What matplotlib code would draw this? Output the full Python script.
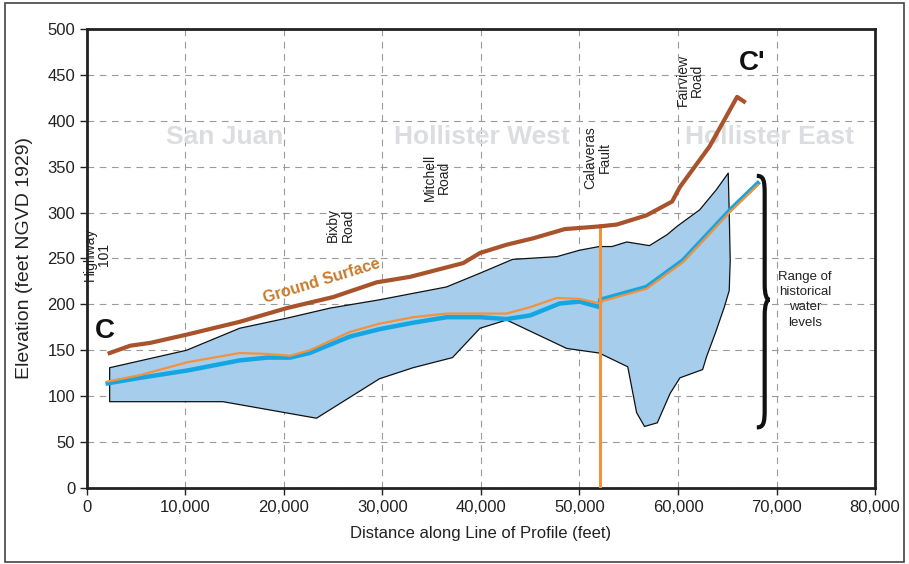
import matplotlib.pyplot as plt
import matplotlib.patches as patches
from matplotlib.path import Path
from matplotlib.ticker import FuncFormatter

plt.rcParams['font.family'] = ['Liberation Sans', 'DejaVu Sans']

# ground surface profile
ground_x = [2300, 4400, 6400, 10100, 15500, 20300, 25000, 29400, 32800, 38200, 39900,
            42600, 45300, 48500, 52100, 53800, 56800, 59400, 60200, 63200, 66000, 66700]
ground_y = [147, 155, 158, 167, 181, 196, 208, 224, 230, 245, 256,
            265, 272, 282, 285, 287, 297, 312, 328, 372, 426, 421]

# range of historical water levels (upper / lower envelope)
upper_x = [2300, 10100, 15500, 20300, 24700, 29700, 36500, 39900, 43200, 47700, 50000,
           52000, 53300, 54800, 57100, 58900, 59900, 62200, 63900, 65100,
           65200, 65300, 65200]
upper_y = [131, 150, 174, 185, 196, 205, 219, 234, 249, 252, 259,
           263, 263, 268, 264, 276, 285, 303, 325, 343,
           300, 248, 215]
lower_x = [2300, 13800, 23300, 29700, 33100, 37100, 39900, 42600, 48700, 52000, 54900,
           55800, 56600, 57900, 59200, 60200, 62500, 62900, 63800, 64700]
lower_y = [94, 94, 76, 119, 131, 142, 174, 183, 152, 147, 132,
           82, 67, 71, 103, 120, 129, 143, 169, 197]

# water level lines
blue_x = [2100, 5400, 10200, 15500, 18300, 20600, 22600, 26700, 29700, 33100, 36500, 40000,
          42600, 45000, 48000, 50000, 52050, 52100, 56800, 60500, 65300, 68100]
blue_y = [114, 120, 128, 139, 142, 142, 147, 165, 173, 180, 186, 186,
          184, 188, 201, 203, 197, 205, 219, 248, 303, 332]
orange_x = [2100, 5400, 10200, 15500, 18300, 20600, 22600, 26700, 29700, 33100, 36500, 42600,
            45000, 47700, 50000, 52050, 52100, 56800, 60500, 65300, 68100]
orange_y = [116, 123, 137, 147, 146, 144, 150, 170, 179, 186, 190, 190,
            197, 207, 206, 201, 203, 217, 246, 301, 330]

fault_x = 52070

road_names = ['Highway\n101', 'Bixby\nRoad', 'Mitchell\nRoad', 'Calaveras\nFault', 'Fairview\nRoad']
road_x = [1000, 25700, 35500, 51800, 61200]
road_y = [254, 286, 338, 360, 444]

region_names = ['San Juan', 'Hollister West', 'Hollister East']
region_x = [14000, 40100, 69300]

fig = plt.figure(figsize=(9.09, 5.64), dpi=100)
ax = fig.add_axes([0.0957, 0.1348, 0.8669, 0.8138])

# outer frame
fig.patches.append(patches.Rectangle((0.005, 0.004), 0.99, 0.99, transform=fig.transFigure,
                                     fill=False, ec='#444444', lw=1.2))

ax.set_xlim(0, 80000)
ax.set_ylim(0, 500)
ax.set_xticks(range(0, 80001, 10000))
ax.set_yticks(range(0, 501, 50))
ax.xaxis.set_major_formatter(FuncFormatter(lambda v, p: f'{int(v):,}'))
ax.grid(True, ls=(0, (6, 5)), color='#9a9a9a', lw=0.8)
ax.set_axisbelow(True)
for s in ax.spines.values():
    s.set_linewidth(2.0)
    s.set_color('#222222')
ax.tick_params(direction='out', length=5, width=1, labelsize=12, colors='#222222')

# historical range envelope
poly_x = upper_x + lower_x[::-1]
poly_y = upper_y + lower_y[::-1]
ax.fill(poly_x, poly_y, facecolor='#a6cdec', edgecolor='#111111', lw=0.9, zorder=2,
        joinstyle='round')

ax.plot(blue_x, blue_y, color='#13a6e3', lw=3.2, zorder=3, solid_joinstyle='round')
ax.plot(orange_x, orange_y, color='#f3923b', lw=1.6, zorder=4, solid_joinstyle='round')
ax.plot([fault_x, fault_x], [0, 286], color='#f3923b', lw=2.2, zorder=4)
ax.plot(ground_x, ground_y, color='#a8532c', lw=3, zorder=4, solid_joinstyle='round')

for name, x in zip(region_names, region_x):
    ax.text(x, 382, name, fontsize=19, fontweight='bold', color='#dcdde0',
            ha='center', va='center', zorder=1)

for name, x, y in zip(road_names, road_x, road_y):
    ax.text(x, y, name, fontsize=10, rotation=90, ha='center', va='center',
            color='#222222', linespacing=1.05, zorder=5)

ax.text(23800, 226, 'Ground Surface', fontsize=11.5, fontweight='bold', color='#c97a2c',
        rotation=17, ha='center', va='center', rotation_mode='anchor', zorder=5)
ax.text(1800, 171, 'C', fontsize=20, fontweight='bold', color='#111111', ha='center', va='center')
ax.text(67500, 463, "C'", fontsize=20, fontweight='bold', color='#111111', ha='center', va='center')

# brace for range of historical water levels
verts = [(68000, 340), (68700, 340), (68800, 335), (68800, 320),
         (68800, 222), (68800, 210), (69000, 205), (69300, 205),
         (69000, 205), (68800, 200), (68800, 188),
         (68800, 86), (68800, 71), (68700, 66), (68000, 66)]
codes = [Path.MOVETO, Path.CURVE4, Path.CURVE4, Path.CURVE4,
         Path.LINETO, Path.CURVE4, Path.CURVE4, Path.CURVE4,
         Path.CURVE4, Path.CURVE4, Path.CURVE4,
         Path.LINETO, Path.CURVE4, Path.CURVE4, Path.CURVE4]
ax.add_patch(patches.PathPatch(Path(verts, codes), fill=False, lw=3, ec='#111111', zorder=5))
ax.text(72900, 205, 'Range of\nhistorical\nwater\nlevels', fontsize=9.5, ha='center', va='center',
        color='#222222', linespacing=1.35)

ax.set_xlabel('Distance along Line of Profile (feet)', fontsize=12, color='#222222', labelpad=8)
ax.set_ylabel('Elevation (feet NGVD 1929)', fontsize=14, color='#222222', labelpad=10)

plt.savefig('out.png', dpi=100)
